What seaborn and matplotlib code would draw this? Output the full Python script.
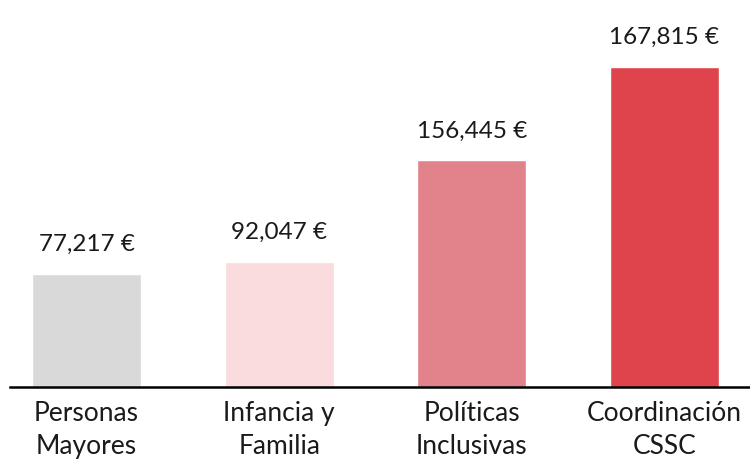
import pandas as pd
import seaborn as sns
import matplotlib.pyplot as plt

categories = ["Personas\nMayores", "Infancia y\nFamilia", "Políticas\nInclusivas", "Coordinación\nCSSC"]
labels = ["77,217 €", "92,047 €", "156,445 €", "167,815 €"]
# bar heights as drawn in the reference (not proportional to the labels)
heights = [59260, 65600, 118900, 167815]
colors = ["#d9d9d9", "#fbdcde", "#e2838b", "#df444c"]

df = pd.DataFrame({"cat": categories, "val": heights})

sns.set_theme(style="white")
plt.rcParams["font.family"] = ["Lato", "DejaVu Sans"]

fig = plt.figure(figsize=(7.5, 4.59), dpi=100)
ax = fig.add_axes([0.0133, 0.1569, 0.9867, 0.8431])
sns.barplot(data=df, x="cat", y="val", hue="cat", palette=colors,
            width=0.566, legend=False, ax=ax, saturation=1)

for i, (h, lab) in enumerate(zip(heights, labels)):
    ax.annotate(lab, (i, h), xytext=(0, 21), textcoords="offset points",
                ha="center", va="center", fontsize=17.5, color="#1a1a1a")

ax.set_xlim(-0.397, 3.444)
ax.set_ylim(0, 202955)
ax.set_yticks([])
ax.set_xlabel("")
ax.set_ylabel("")
for s in ["top", "right", "left"]:
    ax.spines[s].set_visible(False)
ax.spines["bottom"].set_color("black")
ax.spines["bottom"].set_linewidth(1.8)
ax.tick_params(axis="x", length=0, pad=10, labelsize=19, labelcolor="#1a1a1a")
for t in ax.get_xticklabels():
    t.set_linespacing(1.42)

fig.savefig("out.png", dpi=100)
